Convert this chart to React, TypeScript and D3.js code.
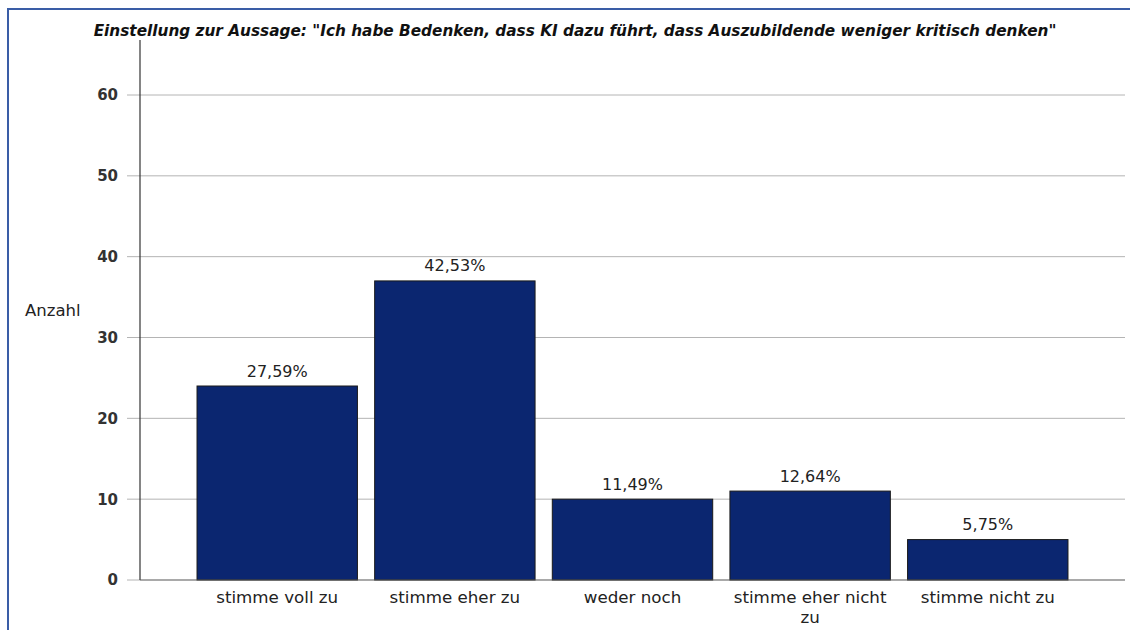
import React from "react";
import * as d3 from "d3";

const categories = ["stimme voll zu", "stimme eher zu", "weder noch", "stimme eher nicht zu", "stimme nicht zu"];
const counts = [24, 37, 10, 11, 5];
const percentLabels = ["27,59%", "42,53%", "11,49%", "12,64%", "5,75%"];
const yTicks = [0, 10, 20, 30, 40, 50, 60];
const title = "Einstellung zur Aussage: \"Ich habe Bedenken, dass KI dazu führt, dass Auszubildende weniger kritisch denken\"";
const yLabel = "Anzahl";

const W = 1130;
const H = 630;
const left = 140;
const right = 1125;
const y0 = 580;
const yTop = 40;

function wrapLabel(label: string, maxChars: number): string[] {
  const words = label.split(" ");
  const lines: string[] = [];
  let cur = "";
  for (const w of words) {
    const t = cur ? cur + " " + w : w;
    if (t.length > maxChars && cur) {
      lines.push(cur);
      cur = w;
    } else cur = t;
  }
  if (cur) lines.push(cur);
  return lines;
}

export default function App() {
  const y = d3.scaleLinear().domain([0, 60]).range([y0, 95]);
  const x = d3
    .scaleBand<string>()
    .domain(categories)
    .range([left, right])
    .paddingInner(0.097)
    .paddingOuter(0.321);
  const font = "'DejaVu Sans', sans-serif";
  return (
    <svg
      width={W}
      height={H}
      style={{ position: "absolute", left: 0, top: 0, background: "#fff" }}
      fontFamily={font}
    >
      <rect x={0} y={0} width={W} height={H} fill="#fff" />
      {/* frame */}
      <line x1={7.5} y1={9} x2={W} y2={9} stroke="#3a5da6" strokeWidth={2} />
      <line x1={8} y1={8} x2={8} y2={H} stroke="#3a5da6" strokeWidth={2} />
      {/* title */}
      <text
        x={575}
        y={36}
        textAnchor="middle"
        fontSize={15.3}
        fontWeight="bold"
        fontStyle="italic"
        fill="#111"
      >
        {title}
      </text>
      {/* grid */}
      {yTicks.map((t) => (
        <g key={t}>
          {t > 0 && (
            <line x1={left} x2={right} y1={y(t)} y2={y(t)} stroke="#b4b4b4" strokeWidth={1} />
          )}
          <line x1={127} x2={left} y1={y(t)} y2={y(t)} stroke="#b4b4b4" strokeWidth={1} />
          <text
            x={118}
            y={y(t)}
            dy="0.36em"
            textAnchor="end"
            fontSize={15}
            fontWeight="bold"
            fill="#333"
          >
            {t}
          </text>
        </g>
      ))}
      <text x={25} y={316} fontSize={16.5} fill="#222">
        {yLabel}
      </text>
      {/* bars */}
      {categories.map((c, i) => (
        <g key={c}>
          <rect
            x={x(c)!}
            y={y(counts[i])}
            width={x.bandwidth()}
            height={y0 - y(counts[i])}
            fill="#0b2670"
            stroke="#1a1a1a"
            strokeWidth={1}
          />
          <text
            x={x(c)! + x.bandwidth() / 2}
            y={y(counts[i]) - 9.5}
            textAnchor="middle"
            fontSize={16}
            fill="#222"
          >
            {percentLabels[i]}
          </text>
          {wrapLabel(c, 18).map((ln, j) => (
            <text
              key={j}
              x={x(c)! + x.bandwidth() / 2}
              y={603 + j * 20}
              textAnchor="middle"
              fontSize={16.7}
              fill="#222"
            >
              {ln}
            </text>
          ))}
        </g>
      ))}
      {/* axes */}
      <line x1={left} x2={left} y1={yTop} y2={y0} stroke="#333" strokeWidth={1.2} />
      <line x1={left} x2={right} y1={y0} y2={y0} stroke="#555" strokeWidth={1.2} />
    </svg>
  );
}
